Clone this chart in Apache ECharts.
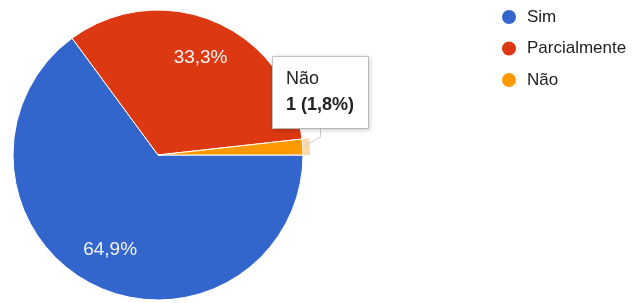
<!DOCTYPE html>
<html>
<head>
<meta charset="utf-8">
<script src="https://cdn.jsdelivr.net/npm/echarts@6/dist/echarts.min.js"></script>
<style>
html,body{margin:0;padding:0;background:#fff;}
#c{width:640px;height:303px;}
</style>
</head>
<body>
<div id="c"></div>
<script>
const categories = ['Sim', 'Parcialmente', 'Não'];
const counts = [37, 19, 1];
const percentLabels = ['64,9%', '33,3%', '1,8%'];
const colors = ['#3366cc', '#dc3912', '#ff9900'];
const highlightIndex = 2;

const FONT = 'Arial, "Liberation Sans", sans-serif';
const chart = echarts.init(document.getElementById('c'), null, {renderer: 'canvas'});

const mainData = categories.map((name, i) => ({
  name: name,
  value: counts[i],
  itemStyle: {color: colors[i]},
  label: i === highlightIndex ? {
    show: true,
    position: 'outside',
    formatter: '{a|' + name + '}\n{b|' + counts[i] + ' (' + percentLabels[i] + ')}',
    backgroundColor: '#fff',
    borderColor: '#cccccc',
    borderWidth: 1,
    shadowBlur: 5,
    shadowColor: 'rgba(0,0,0,0.18)',
    shadowOffsetX: 1,
    shadowOffsetY: 1,
    padding: [9, 14, 10, 13],
    rich: {
      a: {fontSize: 18, fontFamily: FONT, color: '#222', lineHeight: 26},
      b: {fontSize: 18, fontFamily: FONT, color: '#222', fontWeight: 'bold', lineHeight: 26}
    }
  } : {show: false},
  labelLine: i === highlightIndex ? {show: true, length: 8, length2: 8, lineStyle: {color: '#cccccc', width: 1}} : {show: false}
}));

const ringData = categories.map((name, i) => ({
  name: name,
  value: counts[i],
  itemStyle: {color: i === highlightIndex ? '#fbd9a8' : 'rgba(0,0,0,0)'}
}));

const labelData = categories.map((name, i) => ({
  name: name,
  value: counts[i],
  itemStyle: {color: 'rgba(0,0,0,0)'},
  label: {show: i !== highlightIndex, formatter: percentLabels[i]}
}));

chart.setOption({
  animation: false,
  color: colors,
  legend: {
    orient: 'vertical',
    left: 495,
    top: 3,
    icon: 'circle',
    itemWidth: 16,
    itemHeight: 16,
    itemGap: 13.5,
    data: categories,
    selectedMode: false,
    textStyle: {fontSize: 17, fontFamily: FONT, color: '#222', padding: [0, 0, 0, 5]}
  },
  series: [
    {
      type: 'pie',
      name: 'main',
      center: [158, 155],
      radius: [0, 145],
      startAngle: 0,
      clockwise: true,
      z: 3,
      avoidLabelOverlap: false,
      silent: true,
      itemStyle: {borderColor: '#fff', borderWidth: 1},
      emphasis: {disabled: true},
      labelLayout: function (p) {
        if (p.dataIndex === highlightIndex) {
          return {x: 273, y: 57, align: 'left', verticalAlign: 'top'};
        }
      },
      data: mainData
    },
    {
      type: 'pie',
      name: 'ring',
      center: [158, 155],
      radius: [58, 152],
      startAngle: 0,
      clockwise: true,
      z: 1,
      silent: true,
      label: {show: false},
      labelLine: {show: false},
      emphasis: {disabled: true},
      data: ringData
    },
    {
      type: 'pie',
      name: 'labels',
      center: [158, 155],
      radius: [54, 152],
      startAngle: 0,
      clockwise: true,
      z: 4,
      silent: true,
      avoidLabelOverlap: false,
      label: {
        show: true,
        position: 'inside',
        color: '#f4f4f4',
        fontSize: 19,
        fontFamily: FONT
      },
      labelLine: {show: false},
      emphasis: {disabled: true},
      data: labelData
    }
  ]
});
</script>
</body>
</html>
